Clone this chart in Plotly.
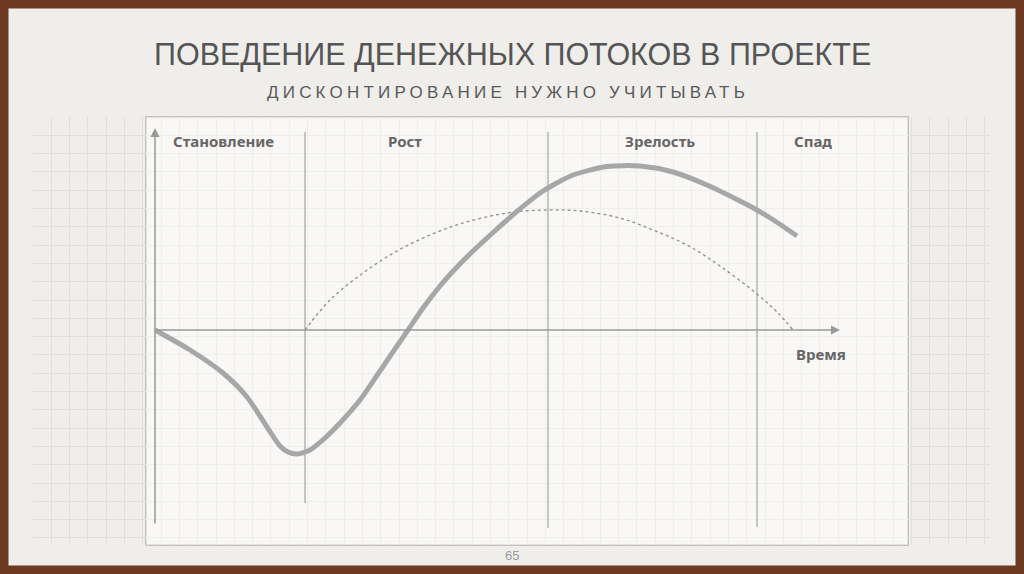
import plotly.graph_objects as go

# cash flow over project life (time units along x, cash flow along y)
flow_t = [0, 3.5, 6.8, 9.2, 11.2, 12.5, 13.3, 14.2, 15.5, 17.0, 18.5, 20.5, 22.5,
          24.2, 25.3, 26.8, 28.5, 30.2, 31.8, 34.2, 36.0, 38.8, 41.8, 45.2, 48.5,
          51.8, 55.2, 58.5, 60.2, 62.0, 64.2]
flow_v = [0, -2.0, -4.3, -6.7, -9.7, -11.6, -12.2, -12.4, -12.0, -10.8, -9.3, -7.0, -4.1,
          -1.6, 0, 2.2, 4.4, 6.3, 7.9, 10.1, 11.7, 13.9, 15.5, 16.35, 16.4,
          15.8, 14.5, 12.9, 12.0, 10.9, 9.4]

# discounted curve (dotted)
disc_t = [15.0, 17.5, 20.8, 24.2, 27.5, 30.8, 35.2, 39.2, 42.5, 46.5, 49.8, 53.2,
          56.5, 60.2, 62.2, 63.8]
disc_v = [0, 3.0, 5.7, 7.9, 9.5, 10.7, 11.7, 12.0, 11.9, 11.2, 10.0, 8.5, 6.4,
          3.6, 1.8, 0]

# project stages
stage_names = ['Становление', 'Рост', 'Зрелость', 'Спад']
stage_mid = [6.8, 25.0, 50.5, 65.8]
stage_bounds = [15.0, 39.3, 60.2]
stage_bottom = [-17.3, -19.8, -19.7]

W, H = 1024, 574
paper_col = '#efeeeb'
grid_col = '#e1dfda'
ink = '#666666'


def px(x, y):
    # pixel position -> paper coords
    return x / W, 1 - y / H


def rect(x0, y0, x1, y1, **kw):
    a, b = px(x0, y0)
    c, d = px(x1, y1)
    return dict(type='rect', xref='paper', yref='paper', x0=a, y0=d, x1=c, y1=b, **kw)


fig = go.Figure()

fig.add_trace(go.Scatter(x=disc_t, y=disc_v, mode='lines',
                         line=dict(color='#8f8f8f', width=1.3, dash='dot', shape='spline'),
                         hoverinfo='skip', showlegend=False))
fig.add_trace(go.Scatter(x=flow_t, y=flow_v, mode='lines',
                         line=dict(color='#a7a7a7', width=5, shape='spline', smoothing=0.7),
                         hoverinfo='skip', showlegend=False))

shapes = []
# lighter sheet inside the chart box (under grid), then a veil to fade the grid there
shapes.append(rect(146, 117, 908, 545, fillcolor='#f8f7f5', line=dict(width=0), layer='below'))
shapes.append(dict(type='rect', xref='x', yref='y', x0=-0.9, x1=75.3, y0=-21.5, y1=21.3,
                   fillcolor='rgba(250,249,247,0.55)', line=dict(width=0), layer='between'))
# chart box frame
shapes.append(rect(146, 117, 908, 545, line=dict(color='#b4b4b4', width=1.5), layer='between'))
# stage dividers
for xb, yb in zip(stage_bounds, stage_bottom):
    shapes.append(dict(type='line', x0=xb, x1=xb, y0=yb, y1=19.8,
                       line=dict(color='#a9a9a9', width=1.3), layer='between'))
# brown slide border
shapes.append(dict(type='rect', xref='paper', yref='paper', x0=0, y0=0, x1=1, y1=1,
                   line=dict(color='#6b3a20', width=17), layer='above'))

annotations = []
# axes with arrows
annotations.append(dict(x=0, y=20.2, ax=0, ay=-19.5, xref='x', yref='y', axref='x', ayref='y',
                        text='', showarrow=True, arrowhead=2, arrowsize=1.2,
                        arrowwidth=1.5, arrowcolor='#999999'))
annotations.append(dict(x=68.5, y=0, ax=0, ay=0, xref='x', yref='y', axref='x', ayref='y',
                        text='', showarrow=True, arrowhead=2, arrowsize=1.2,
                        arrowwidth=1.5, arrowcolor='#999999'))
for name, xm in zip(stage_names, stage_mid):
    annotations.append(dict(x=xm, y=18.9, xref='x', yref='y', text='<b>' + name + '</b>',
                            showarrow=False, font=dict(family='Noto Sans', size=15, color=ink)))
annotations.append(dict(x=66.6, y=-2.4, xref='x', yref='y', text='<b>Время</b>',
                        showarrow=False, font=dict(family='Noto Sans', size=15, color=ink)))

# slide texts
tx, ty = px(512, 54)
annotations.append(dict(x=tx, y=ty, xref='paper', yref='paper', xanchor='center', yanchor='middle',
                        text='ПОВЕДЕНИЕ ДЕНЕЖНЫХ ПОТОКОВ В ПРОЕКТЕ', showarrow=False,
                        font=dict(family='Liberation Sans', size=30.5, color='#555555')))
tx, ty = px(508, 92)
annotations.append(dict(x=tx, y=ty, xref='paper', yref='paper', xanchor='center', yanchor='middle',
                        text='<span style="letter-spacing:4.2px">ДИСКОНТИРОВАНИЕ НУЖНО УЧИТЫВАТЬ</span>',
                        showarrow=False,
                        font=dict(family='Liberation Sans', size=17, color='#5a5a5a')))
tx, ty = px(512, 555)
annotations.append(dict(x=tx, y=ty, xref='paper', yref='paper', xanchor='center', yanchor='middle',
                        text='65', showarrow=False,
                        font=dict(family='Liberation Sans', size=13, color='#9a9a9a')))

# plot area = squared paper region (33..990 px, 117..545 px)
fig.update_layout(
    width=W, height=H, autosize=False,
    margin=dict(l=0, r=0, t=0, b=0),
    paper_bgcolor=paper_col, plot_bgcolor=paper_col,
    shapes=shapes, annotations=annotations,
    xaxis=dict(domain=[33 / W, 990 / W], range=[-12.2, 83.5], showticklabels=False,
               zeroline=False, showgrid=True, gridcolor=grid_col, gridwidth=1,
               tick0=-12.2, dtick=1.83, ticks='', fixedrange=True),
    yaxis=dict(domain=[1 - 545 / H, 1 - 117 / H], range=[-21.5, 21.3], showticklabels=False,
               zeroline=False, showgrid=True, gridcolor=grid_col, gridwidth=1,
               tick0=21.3, dtick=1.83, ticks='', fixedrange=True),
)

fig.write_html("out.html", config={'displayModeBar': False},
               post_script="document.body.style.margin='0';")
